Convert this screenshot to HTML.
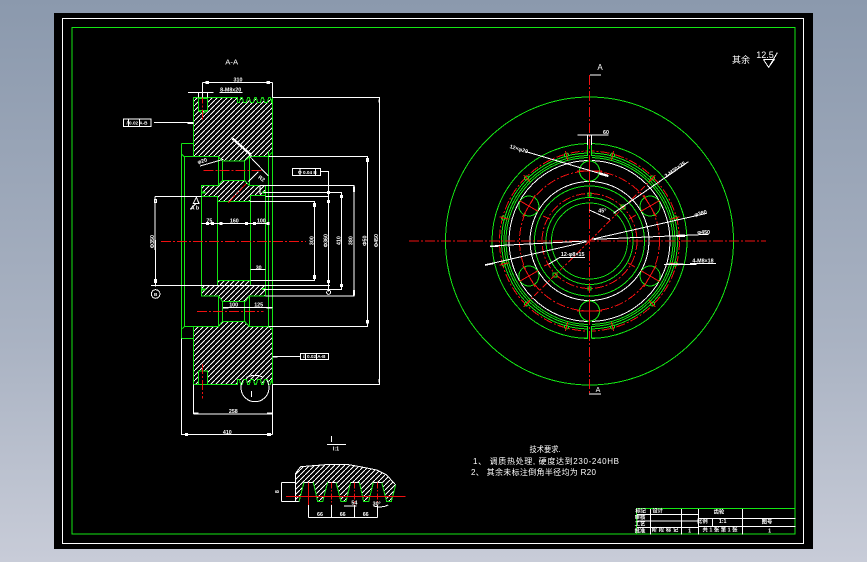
<!DOCTYPE html>
<html><head><meta charset="utf-8"><style>
html,body{margin:0;padding:0;width:867px;height:562px;overflow:hidden;background:linear-gradient(#8b99ad,#a9b2c2 60%,#c8ccd8)}
svg{position:absolute;left:0;top:0;display:block}
.g{stroke:#14e614;fill:none}
.w{stroke:#fff;fill:none}
.r{stroke:#f01010;fill:none}
text{stroke:none;fill:#fff;font-family:"Liberation Sans","Noto Sans CJK SC",sans-serif;text-anchor:middle}
.z text{font-size:16px;font-weight:bold}
.t{font-size:8px}
</style></head><body>
<svg width="867" height="562" viewBox="0 0 867 562" xmlns="http://www.w3.org/2000/svg" shape-rendering="crispEdges">
<defs>
<pattern id="h" patternUnits="userSpaceOnUse" width="15" height="15"><rect width="15" height="15" fill="#000"/><path d="M-3,18L18,-3" stroke="#fff" stroke-width="2.6" fill="none"/></pattern>
</defs>
<rect x="54" y="13" width="759" height="536" fill="#000"/>
<rect x="62.5" y="18.5" width="741" height="525" class="w"/>
<rect x="72" y="27.5" width="723" height="506.5" class="g"/>

<!-- upper half of section -->
<g class="z" transform="translate(100,50) scale(.33333)" stroke-width="3">
<text x="395" y="44" style="font-size:23px;font-weight:normal">A-A</text>
<polygon class="g" style="fill:url(#h)" points="280,142 412,142 412,158 414,158 418,158 422,143 427,143 431,158 435,158 439,158 443,143 448,143 452,158 456,158 460,158 464,143 469,143 473,158 477,158 481,158 485,143 490,143 494,158 498,158 502,158 506,143 511,143 515,158 518,143 518,305 505,320 448,320 434,333 367,333 355,320 280,320"/>
<polygon class="g" style="fill:url(#h)" points="304,407 355,407 367,391 434,391 448,407 496,407 496,437 451,437 451,455 352,455 352,440 304,440"/>
<rect x="295" y="145" width="28" height="37" class="g" style="fill:#000"/>
<polyline class="g" points="295,182 309,190 323,182"/>
<path class="g" d="M253,320V600M244,281V600M304,440V600M352,455V600M451,437V600M496,437V600M505,305V600M518,305V600M244,281H280M244,312L253,320M253,320H355M355,320V407M448,320V407M367,333V391M434,333V391"/>
<rect x="304" y="424" width="12" height="6" fill="#14e614" stroke="none"/>
<rect x="486" y="424" width="12" height="6" fill="#14e614" stroke="none"/>
<path class="r" stroke-dasharray="30 6 6 6" d="M183,574H618M310,361H490M307,130V212M385,458L440,400"/>
<path class="w" d="M307,97H518M307,97V142M518,97V142M264,127H340M295,127V142M323,127V142M358,128H428M162,217H262M300,348L370,328M518,142H838V600M505,320H802V600M478,407H762V600M490,428H724V600M450,455H643V600M165,440H304M496,440H685M165,440V600M661,365H685V600M304,520H505M395,262L455,318M450,320L505,378M445,395L475,365M480,408V432M280,460H297L289,442Z M289,460L270,478"/>
<path stroke="#fff" stroke-width="7" d="M398,266L452,314" fill="none"/>
<path stroke="#fff" stroke-width="6" d="M262,219H280" fill="none"/>
<rect x="70.500" y="207" width="82" height="23" class="w"/><path class="w" d="M86,207V230M118,207V230"/>
<rect x="578" y="355" width="83" height="22" class="w"/><path class="w" d="M600,355V377M646,355V377"/>
<rect x="318" y="94" width="7" height="6" class="w"/><rect x="501" y="94" width="7" height="6" class="w"/>
<rect x="320" y="517" width="6" height="6" class="w"/><rect x="334" y="517" width="6" height="6" class="w"/><rect x="360" y="517" width="6" height="6" class="w"/><rect x="436" y="517" width="6" height="6" class="w"/><rect x="460" y="517" width="6" height="6" class="w"/><rect x="501" y="517" width="6" height="6" class="w"/>
<rect x="682" y="424" width="7" height="7" class="w"/><rect x="682" y="451" width="7" height="7" class="w"/><rect x="721" y="436" width="7" height="7" class="w"/><rect x="640" y="460" width="6" height="10" class="w"/><rect x="799" y="326" width="6" height="9" class="w"/><rect x="163" y="448" width="6" height="9" class="w"/>
<path stroke="#fff" stroke-width="5" d="M838,148V158M762,410V426" fill="none"/>
<text x="414" y="95">310</text><text x="392" y="125">8-M8x20</text>
<text x="111" y="224" style="font-size:14px">/ 0.02 A-B</text>
<text x="622" y="372" style="font-size:14px">Φ 0.04 B</text>
<text x="328" y="518">75</text><text x="403" y="518">160</text><text x="484" y="518">100</text>
<text x="285" y="478">A b</text>
<text x="485" y="391" transform="rotate(35 485 385)">R2</text>
<text x="0" y="0" transform="translate(308,338) rotate(-15)">φ20</text>
<text x="0" y="0" transform="translate(162,575) rotate(-90)">Φ350</text>
<text x="0" y="0" transform="translate(641,572) rotate(-90)">300</text>
<text x="0" y="0" transform="translate(682,572) rotate(-90)">Φ360</text>
<text x="0" y="0" transform="translate(721,572) rotate(-90)">410</text>
<text x="0" y="0" transform="translate(758,572) rotate(-90)">380</text>
<text x="0" y="0" transform="translate(800,572) rotate(-90)">Φ50</text>
<text x="0" y="0" transform="translate(834,572) rotate(-90)">Φ450</text>
</g>

<!-- lower half of section -->
<g class="z" transform="translate(100,240) scale(.33333)" stroke-width="3">
<polygon class="g" style="fill:url(#h)" points="280,260 355,260 367,244 434,244 448,260 505,260 518,268 518,433 515,418 511,433 506,433 502,418 498,418 494,418 490,433 485,433 481,418 477,418 473,418 469,433 464,433 460,418 456,418 452,418 448,433 443,433 439,418 435,418 431,418 427,433 422,433 418,418 412,418 412,433 280,433"/>
<polygon class="g" style="fill:url(#h)" points="304,136 352,136 352,122 451,122 451,136 496,136 496,168 448,168 436,184 367,184 355,168 304,168"/>
<rect x="295" y="393" width="28" height="40" class="g" style="fill:#000"/>
<path class="g" d="M253,0V260M244,0V295M304,0V136M352,0V122M451,0V136M496,0V136M505,0V260M518,0V268M253,260H355M244,268L253,260M244,295H280M355,168V260M448,168V260M367,184V244M434,184V244"/>
<rect x="304" y="145" width="12" height="6" fill="#14e614" stroke="none"/><rect x="486" y="144" width="10" height="6" fill="#14e614" stroke="none"/>
<path class="r" stroke-dasharray="30 6 6 6" d="M183,4H618M291,214H490M307,372V475"/>
<path class="w" d="M838,0V433H518M802,0V260H505M762,0V168H496M724,0V148H490M643,0V122H451M153,136H690M166,0V140M685,0V155M280,433V522M518,433V583M280,522H518M244,295V583H518M518,350H601M452,88H496M369,203H518M454,453V471"/>
<path class="w" d="M430,420A42,42 0 1 0 500,420M440,412Q465,400 490,412"/>
<circle cx="167" cy="162" r="13" class="w"/>
<circle cx="686" cy="157" r="6" class="w"/>
<path stroke="#fff" stroke-width="5" d="M838,417V428M762,150V166M518,350H533M280,520H296M501,520H518M369,203H386M500,203H516" fill="none"/>
<rect x="601" y="340" width="85" height="18" class="w"/><path class="w" d="M617,340V358M650,340V358"/>
<rect x="640" y="107" width="6" height="9" class="w"/><rect x="799" y="241" width="6" height="8" class="w"/><rect x="163" y="119" width="6" height="8" class="w"/><rect x="721" y="133" width="7" height="7" class="w"/><rect x="682" y="121" width="7" height="7" class="w"/>
<rect x="256" y="580" width="7" height="6" class="w"/><rect x="502" y="580" width="10" height="6" class="w"/>
<text x="400" y="519">258</text><text x="382" y="582">410</text>
<text x="476" y="88">30</text><text x="401" y="200">100</text><text x="476" y="200">125</text>
<text x="643" y="354" style="font-size:14px">// 0.02 A-B</text>
<text x="167" y="168" style="font-size:14px">B</text>
</g>

<!-- end view -->
<g stroke-width="1">
<circle cx="589.5" cy="241" r="144" class="g"/>
<circle cx="589.5" cy="241" r="97.500" class="g"/>
<circle cx="589.5" cy="241" r="88" class="g"/>
<circle cx="589.5" cy="241" r="85.500" class="g"/>
<circle cx="589.5" cy="241" r="83.500" class="g"/>
<circle cx="589.5" cy="241" r="80.500" class="w"/>
<circle cx="589.5" cy="241" r="90" class="r" stroke-dasharray="9 2 2 2"/>
<circle cx="589.5" cy="241" r="70" class="r" stroke-dasharray="9 2 2 2"/>
<circle cx="589.5" cy="241" r="59.500" class="w"/>
<circle cx="589.5" cy="241" r="55" class="g"/>
<circle cx="589.5" cy="241" r="47.500" class="r" stroke-dasharray="9 2 2 2"/>
<circle cx="589.5" cy="241" r="43.500" class="g"/>
<circle cx="589.5" cy="241" r="38" class="g"/>
<rect x="588" y="142" width="4" height="24" fill="#000"/><rect x="588" y="316" width="4" height="24" fill="#000"/>
<path class="w" d="M587.5,135V156M591.500,135V156M587.5,327V338M591.500,327V338"/>
<path class="g" d="M587.5,145V156M591.500,145V156M587.5,326V338H578M591.500,326V338H600"/>
<!-- bolt circles -->
<g><circle cx="589.5" cy="171" r="10" class="g"/><path class="r" d="M577,171H602M589.5,160V182"/></g>
<g transform="rotate(60 589.5 241)"><circle cx="589.5" cy="171" r="10" class="g"/><path class="r" d="M577,171H602M589.5,160V182"/></g>
<g transform="rotate(120 589.5 241)"><circle cx="589.5" cy="171" r="10" class="g"/><path class="r" d="M577,171H602M589.5,160V182"/></g>
<g transform="rotate(180 589.5 241)"><circle cx="589.5" cy="171" r="10" class="g"/><path class="r" d="M577,171H602M589.5,160V182"/></g>
<g transform="rotate(240 589.5 241)"><circle cx="589.5" cy="171" r="10" class="g"/><path class="r" d="M577,171H602M589.5,160V182"/></g>
<g transform="rotate(300 589.5 241)"><circle cx="589.5" cy="171" r="10" class="g"/><path class="r" d="M577,171H602M589.5,160V182"/></g>
<!-- small holes -->
<g transform="rotate(15 589.5 241)"><circle cx="589.5" cy="152" r="2" class="g"/><path class="r" d="M589.5,148V157"/></g>
<g transform="rotate(45 589.5 241)"><circle cx="589.5" cy="152" r="2" class="g"/><path class="r" d="M589.5,148V157"/></g>
<g transform="rotate(75 589.5 241)"><circle cx="589.5" cy="152" r="2" class="g"/><path class="r" d="M589.5,148V157"/></g>
<g transform="rotate(105 589.5 241)"><circle cx="589.5" cy="152" r="2" class="g"/><path class="r" d="M589.5,148V157"/></g>
<g transform="rotate(135 589.5 241)"><circle cx="589.5" cy="152" r="2" class="g"/><path class="r" d="M589.5,148V157"/></g>
<g transform="rotate(165 589.5 241)"><circle cx="589.5" cy="152" r="2" class="g"/><path class="r" d="M589.5,148V157"/></g>
<g transform="rotate(195 589.5 241)"><circle cx="589.5" cy="152" r="2" class="g"/><path class="r" d="M589.5,148V157"/></g>
<g transform="rotate(225 589.5 241)"><circle cx="589.5" cy="152" r="2" class="g"/><path class="r" d="M589.5,148V157"/></g>
<g transform="rotate(255 589.5 241)"><circle cx="589.5" cy="152" r="2" class="g"/><path class="r" d="M589.5,148V157"/></g>
<g transform="rotate(285 589.5 241)"><circle cx="589.5" cy="152" r="2" class="g"/><path class="r" d="M589.5,148V157"/></g>
<g transform="rotate(315 589.5 241)"><circle cx="589.5" cy="152" r="2" class="g"/><path class="r" d="M589.5,148V157"/></g>
<g transform="rotate(345 589.5 241)"><circle cx="589.5" cy="152" r="2" class="g"/><path class="r" d="M589.5,148V157"/></g>
<rect x="621" y="205" width="4" height="4" class="g"/><rect x="553" y="273" width="4" height="4" class="g"/>
<rect x="588" y="193" width="3" height="3" class="g"/><rect x="588" y="287" width="3" height="3" class="g"/>
<path class="r" d="M543,216L550,219M629,219L636,215M544,266L551,263M628,263L635,267"/>
<path class="r" stroke-dasharray="6 2 2 2" d="M589.5,241L653,178M589.5,241L526,304"/>
<path class="r" stroke-dasharray="10 2 2 2" d="M409,241H766M589.5,75V394"/>
</g>
<g class="z" transform="translate(440,90) scale(.33333)" stroke-width="3">
<path class="w" d="M258,185L505,258M455,448L800,370M462,448L805,433M520,370L745,215M448,360L510,388M412,135H505"/>
<path stroke="#fff" stroke-width="7" d="M478,250L505,258M710,438L735,437" fill="none"/>
<text transform="translate(235,182) rotate(17)">12×φ20</text>
<text x="498" y="132">60</text>
<text transform="translate(708,243) rotate(-35)">2-M20×25</text>
<text transform="translate(783,375) rotate(-14)">φ380</text>
<text x="791" y="432">φ450</text>
<text x="487" y="368">45°</text>
</g>
<g class="z" transform="translate(440,235) scale(.33333)" stroke-width="3">
<path class="w" d="M150,33L440,18M135,90L440,20M325,88L360,67H435M672,88H770M750,85H828"/>
<path stroke="#fff" stroke-width="5" d="M135,90L160,85M150,34H175M680,88H730" fill="none"/>
<text x="398" y="63">12-φ8×15</text>
<text x="789" y="83">4-M8×18</text>
</g>
<text x="600" y="70" style="font-size:8px">A</text>
<path class="w" d="M590,75H601"/>
<text x="598" y="392" style="font-size:7px">A</text>
<path class="w" d="M589,394H601"/>

<!-- detail -->
<g class="z" transform="translate(260,430) scale(.33333)" stroke-width="3">
<path class="w" d="M214,18V36M201,43H258"/>
<text x="228" y="62">I:1</text>
<polygon class="w" style="fill:url(#h)" points="107,157 107,130 122,110 160,107 210,103 260,103 300,110 350,120 380,135 407,165 394,215 380,215 365,157 340,157 326,215 311,215 298,157 272,157 258,215 243,215 228,157 203,157 188,215 173,215 160,157 132,157 117,215 107,215"/>
<path class="g" d="M132,157L117,215M160,157L173,215H188L203,157M228,157L243,215H258L272,157M298,157L311,215H326L340,157M365,157L380,215H394L407,165"/>
<path class="w" d="M65,157H107M65,215H107M65,157V215M146,225V263M214,225V263M283,225V263M352,225V263M146,263H352M252,228H290M340,228Q365,235 385,225"/>
<path class="r" d="M146,157V225M78,199H437"/>
<path class="r" stroke-dasharray="18 5 5 5" d="M214,157V225M283,157V225M352,157V225"/>
<text transform="translate(57,185) rotate(-90)">8</text>
<text x="180" y="258">66</text><text x="248" y="258">66</text><text x="317" y="258">66</text>
<text x="283" y="223">54</text><text x="350" y="226">30°</text>
</g>

<!-- notes -->
<text x="545" y="452" class="t" textLength="31" lengthAdjust="spacingAndGlyphs">技术要求.</text>
<text x="473" y="464" class="t" textLength="146" lengthAdjust="spacing" style="text-anchor:start">1、 调质热处理, 硬度达到230-240HB</text>
<text x="471" y="475" class="t" textLength="125" lengthAdjust="spacing" style="text-anchor:start">2、 其余未标注倒角半径均为 R20</text>
<text x="741" y="63" style="font-size:9px">其余</text>
<text x="765" y="58" style="font-size:9px">12.5</text>
<g transform="translate(720,30) scale(.33333)" stroke-width="3"><path class="w" d="M130,88H163L146,112L130,88M146,112L172,68"/></g>

<!-- title block -->
<g class="z" transform="translate(620,495) scale(.33333)" stroke-width="3">
<path class="w" d="M92,40V118M184,40V118M235,40V118M367,40V118M50,58H235M50,78H235M50,97H235M235,70H527M235,94H527M277,70V94"/>
<path class="g" d="M50,40H527M50,40V118"/>
<text x="62" y="53">标记</text><text x="113" y="53">设计</text>
<text x="60" y="72">审核</text><text x="60" y="92">工艺</text><text x="60" y="112">批准</text>
<text x="135" y="110" textLength="80" lengthAdjust="spacing">阶段标记</text>
<text x="209" y="113">1</text>
<text x="297" y="55">齿轮</text>
<text x="247" y="84">比例</text><text x="308" y="84">1:1</text>
<text x="441" y="85">图号</text>
<text x="300" y="110" textLength="105" lengthAdjust="spacing">共 1 张 第 1 张</text>
<text x="449" y="113">1</text>
</g>
</svg>
</body></html>
